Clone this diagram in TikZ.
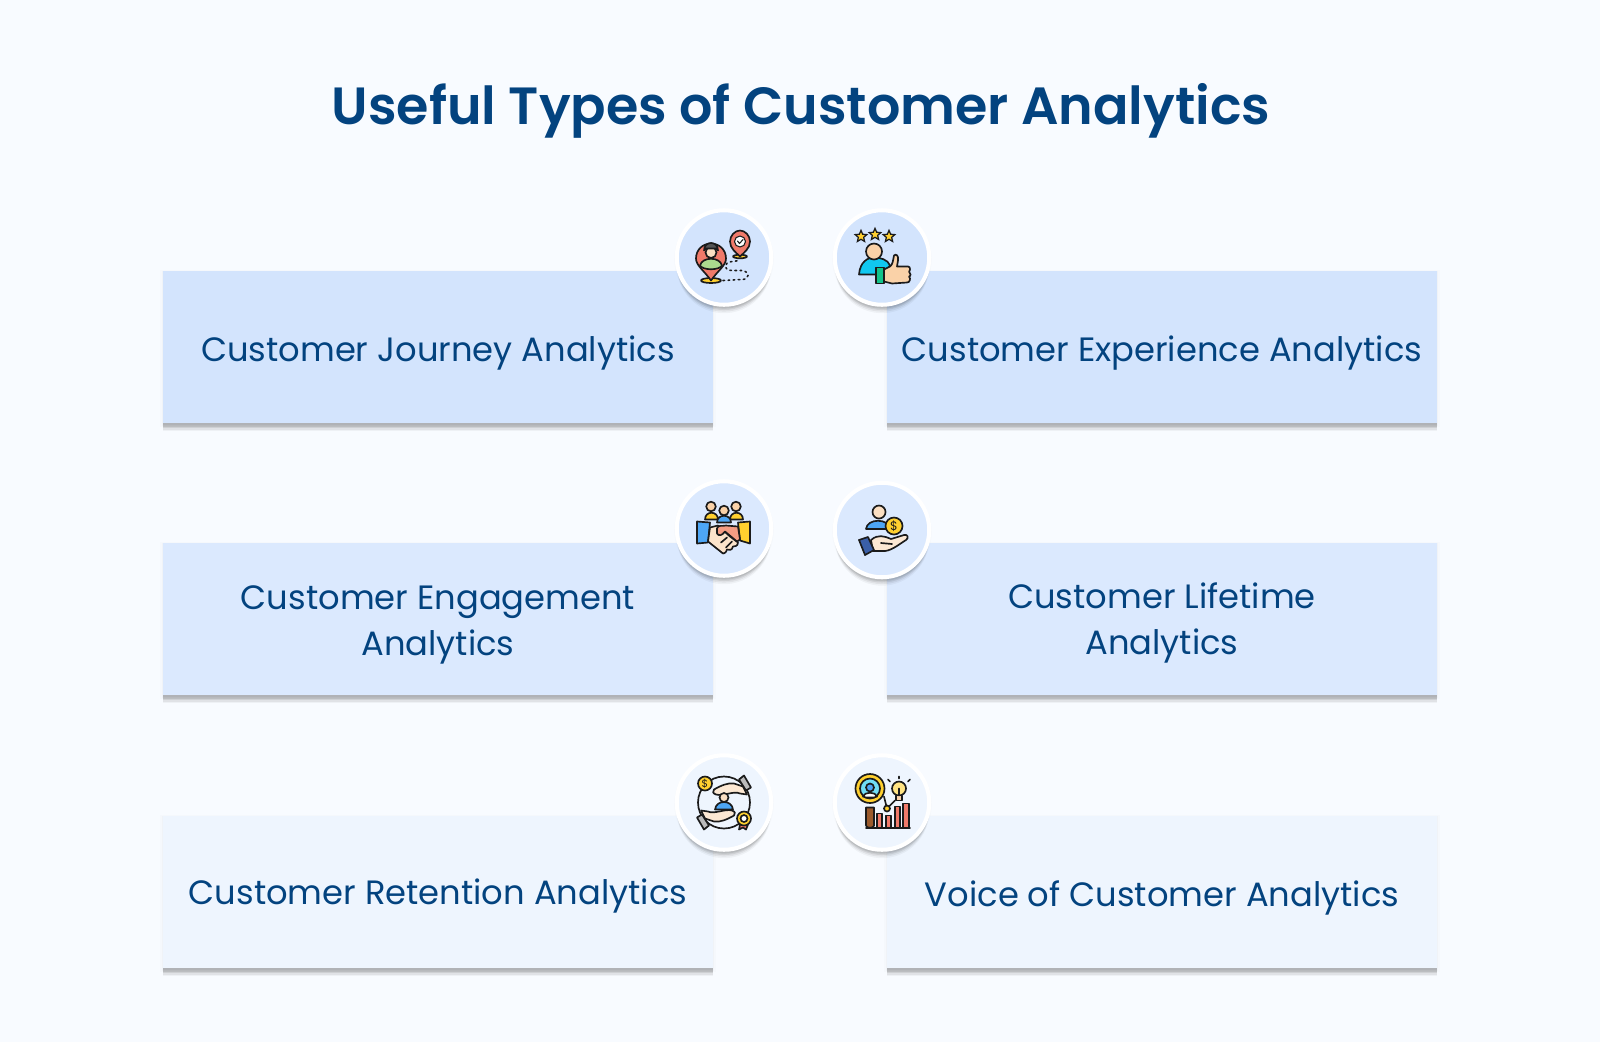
\documentclass[tikz,border=0pt]{standalone}
\usepackage{fontspec}
\setmainfont{Poppins}
\newfontfamily\titlefont{Poppins}[BoldFont={Poppins SemiBold}]
\usetikzlibrary{shadows,shapes.geometric}
\definecolor{pagebg}{HTML}{F8FBFF}
\definecolor{inkblue}{HTML}{03437F}
\definecolor{rowone}{HTML}{D3E4FD}
\definecolor{rowtwo}{HTML}{DBE9FE}
\definecolor{rowthree}{HTML}{EEF5FE}
\definecolor{iconink}{HTML}{1B1B1B}
\definecolor{salmon}{HTML}{F07A6A}
\definecolor{gold}{HTML}{FFD02F}
\definecolor{peach}{HTML}{FAD2A8}
\definecolor{skyblue}{HTML}{4DA6F5}
\definecolor{cyanblue}{HTML}{10C8F0}
\definecolor{leaf}{HTML}{12C48B}
\definecolor{navyhand}{HTML}{3A5FA8}
\definecolor{brownish}{HTML}{9A5A2C}
\newcommand{\downtext}[2]{\raisebox{-#1pt}[\height][\depth]{#2}}
\tikzset{
  softshadow/.style={
    general shadow={fill=black,draw=black,line width=3pt,opacity=.012,shadow yshift=-1pt},
    general shadow={fill=black,draw=black,line width=1.5pt,opacity=.018,shadow yshift=-1pt},
    general shadow={fill=black,opacity=.04,shadow yshift=-4.8pt},
    general shadow={fill=black,opacity=.06,shadow yshift=-3.9pt},
    general shadow={fill=black,opacity=.08,shadow yshift=-3pt},
    general shadow={fill=black,opacity=.08,shadow yshift=-2.2pt}},
  cardbox/.style={rectangle,softshadow,minimum width=550*.02cm,minimum height=152*.02cm,
    inner sep=0pt,align=center,text=inkblue,font=\fontsize{19.2}{26.2}\selectfont},
  iconcircle/.style={circle,softshadow,draw=white,line width=2.3pt,minimum size=94.5*.02cm,inner sep=0pt},
  iconline/.style={draw=iconink,line width=.95pt,line join=round,line cap=round},
  starmark/.style={star,star points=5,star point ratio=2.2,fill=gold,draw=iconink,line width=.7pt,minimum size=7pt,inner sep=0pt},
  dollarmark/.style={text=iconink,inner sep=0pt,font=\fontsize{7}{7}\selectfont}
}
\begin{document}
\begin{tikzpicture}[x=.02cm,y=-.02cm]
  \useasboundingbox (0,0) rectangle (1600,1042);
  \fill[pagebg] (0,0) rectangle (1600,1042);

  %% title
  \node (title) at (801,111) [text=inkblue,font=\titlefont\bfseries\fontsize{29.8}{36}\selectfont] {Useful Types of Customer Analytics};

  %% cards
  \node[cardbox,fill=rowone] (journey) at (438,347) {\downtext{3.5}{Customer Journey Analytics}};
  \node[cardbox,fill=rowone] (experience) at (1162,347) {\downtext{3.5}{Customer Experience Analytics}};
  \node[cardbox,fill=rowtwo] (engagement) at (438,619) {\downtext{3.2}{Customer Engagement}\\\downtext{3.2}{Analytics}};
  \node[cardbox,fill=rowtwo] (lifetime) at (1162,619) {\downtext{2.1}{Customer Lifetime}\\\downtext{2.1}{Analytics}};
  \node[cardbox,fill=rowthree] (retention) at (438,892) {\downtext{2.4}{Customer Retention Analytics}};
  \node[cardbox,fill=rowthree] (voice) at (1162,892) {\downtext{3.5}{Voice of Customer Analytics}};

  %% circles
  \node[iconcircle,fill=rowone] (journeyicon) at (724,257.5) {};
  \node[iconcircle,fill=rowone] (experienceicon) at (882,257.5) {};
  \node[iconcircle,fill=rowtwo] (engagementicon) at (724,528.5) {};
  \node[iconcircle,fill=rowtwo] (lifetimeicon) at (882,530) {};
  \node[iconcircle,fill=rowthree] (retentionicon) at (724,802.5) {};
  \node[iconcircle,fill=rowthree] (voiceicon) at (882,802.5) {};

  %% journey icon
  \begin{scope}[shift={(journeyicon.center)}]
    \draw[iconline,fill=gold] (-13,23) ellipse (10 and 2.5);
    \draw[iconline,fill=gold] (16,-1) ellipse (7 and 1.8);
    \draw[iconline,fill=salmon] (-13,23) .. controls (-20,13) and (-28,8) .. (-28,1)
      .. controls (-28,-8) and (-21,-14) .. (-13,-14) .. controls (-5,-14) and (2,-8) .. (2,1)
      .. controls (2,8) and (-6,13) .. (-13,23) -- cycle;
    \draw[iconline,fill=salmon] (16,-1) .. controls (12,-5) and (6,-9) .. (6,-16)
      .. controls (6,-22) and (11,-27) .. (16,-27) .. controls (21,-27) and (26,-22) .. (26,-16)
      .. controls (26,-9) and (20,-5) .. (16,-1) -- cycle;
    \draw[iconline,fill=white,line width=.6pt] (16,-16) circle (5.5);
    \draw[iconline,line width=.6pt] (13.5,-16.5) -- (15.5,-14) -- (19,-18);
    \draw[iconline,fill=leaf!50!gold!70!white] (-24,8) .. controls (-22,-1) and (-4,-1) .. (-2,8) .. controls (-5,13) and (-21,13) .. (-24,8) -- cycle;
    \draw[iconline,fill=peach!70!white] (-13,-5) circle (5.5);
    \draw[iconline,fill=iconink!75] (-20,-7) .. controls (-20,-17) and (-6,-17) .. (-6,-7) -- (-8,-9) -- (-18,-9) -- cycle;
    \draw[iconink,line width=.9pt,dotted,line cap=round] (-1,23) -- (18,22) .. controls (26,22) and (26,14) .. (18,13)
      -- (8,13) .. controls (-1,13) and (-1,5) .. (8,4) -- (16,3);
  \end{scope}

  %% experience icon
  \begin{scope}[shift={(experienceicon.center)}]
    \node[starmark] (starone) at (-21,-21) {};
    \node[starmark] (startwo) at (-7,-23) {};
    \node[starmark] (starthree) at (7,-21) {};
    \draw[iconline,fill=cyanblue] (-23,17) .. controls (-22,4) and (-14,0) .. (-8,0) .. controls (-2,0) and (6,2) .. (8,8) -- (2,17) -- cycle;
    \draw[iconline,fill=peach] (-8,-6) circle (8);
    \draw[iconline,fill=peach] (2,12) -- (8,9) .. controls (11,7) and (11,2) .. (12,-2) .. controls (14,-4) and (17,-2) .. (16,3)
      -- (15,9) -- (26,9) .. controls (29,9) and (28,14) .. (27,14) .. controls (29,15) and (29,19) .. (27,19)
      .. controls (29,21) and (28,25) .. (25,25) -- (10,26) -- (2,24) -- cycle;
    \draw[iconline,fill=leaf] (-6,10) rectangle (2,26);
  \end{scope}

  %% engagement icon
  \begin{scope}[shift={(engagementicon.center)}]
    \draw[iconline,fill=gold] (-19,-9) .. controls (-19,-18) and (-6,-18) .. (-6,-9) -- cycle;
    \draw[iconline,fill=gold] (6,-9) .. controls (6,-18) and (19,-18) .. (19,-9) -- cycle;
    \draw[iconline,fill=peach] (-13,-22) circle (4.8);
    \draw[iconline,fill=peach] (12,-22) circle (4.8);
    \draw[iconline,fill=skyblue] (-7,-6) .. controls (-7,-15) and (7,-15) .. (7,-6) -- cycle;
    \draw[iconline,fill=peach] (0,-18) circle (4.8);
    \draw[iconline,fill=skyblue] (-27,-7) -- (-14,-6) -- (-16,14) -- (-27,15) -- cycle;
    \draw[iconline,fill=gold] (14,-6) -- (26,-7) -- (26,15) -- (16,12) -- cycle;
    \draw[iconline,fill=peach!60!white] (-14,-1) -- (-6,-3) -- (6,8) -- (14,14) .. controls (14,18) and (10,18) .. (9,18)
      .. controls (8,22) and (5,22) .. (3,21) .. controls (2,25) and (-1,25) .. (-1,25) -- (-16,13) -- cycle;
    \draw[iconline,fill=salmon!60!peach] (-7,5) -- (-7,0) .. controls (-6,-4) and (-2,-2) .. (2,-3) -- (14,-2) -- (16,11) -- (13,13)
      -- (1,3) .. controls (-2,7) and (-5,8) .. (-7,5) -- cycle;
    \draw[iconline] (-3,14) -- (3,9) (2,19) -- (8,13);
  \end{scope}

  %% lifetime icon
  \begin{scope}[shift={(lifetimeicon.center)}]
    \draw[iconline,fill=skyblue] (-16,-1) .. controls (-15,-12) and (7,-12) .. (8,-1) -- cycle;
    \draw[iconline,fill=peach!70!white] (-3,-18) circle (6.5);
    \draw[iconline,fill=gold] (12,-4) circle (8.5);
    \node[dollarmark] (lifetimecoin) at (12,-4) {\$};
    \draw[iconline,fill=peach!50!white] (-11,10) .. controls (-4,4) and (2,6) .. (9,9) -- (22,5) .. controls (26,4) and (27,8) .. (24,10)
      .. controls (16,15) and (8,22) .. (0,21) -- (-9,21) -- cycle;
    \draw[iconline,fill=navyhand] (-23,10) -- (-14,7) -- (-8,20) -- (-17,25) -- cycle;
    \draw[iconline] (-1,13) -- (10,14);
  \end{scope}

  %% retention icon
  \begin{scope}[shift={(retentionicon.center)}]
    \draw[iconline] (0,0) circle (26);
    \draw[iconline,fill=peach!50!white] (-10,-13) .. controls (-3,-17) and (4,-20) .. (10,-19) -- (19,-16) -- (23,-8) -- (16,-9)
      .. controls (10,-12) and (-1,-6) .. (-8,-8) .. controls (-11,-9) and (-12,-11) .. (-10,-13) -- cycle;
    \draw[iconline,fill=white!70!iconink] (15,-23) -- (20,-27) -- (27,-15) -- (22,-12) -- cycle;
    \draw[iconline,fill=peach!50!white] (10,13) .. controls (3,17) and (-4,20) .. (-10,19) -- (-19,16) -- (-23,8) -- (-16,9)
      .. controls (-10,12) and (1,6) .. (8,8) .. controls (11,9) and (12,11) .. (10,13) -- cycle;
    \draw[iconline,fill=white!70!iconink] (-15,23) -- (-20,27) -- (-27,15) -- (-22,12) -- cycle;
    \draw[iconline,fill=gold] (-19,-19) circle (7);
    \node[dollarmark,font=\fontsize{6}{6}\selectfont] (retentioncoin) at (-19,-19) {\$};
    \draw[iconline,fill=skyblue] (-9,7) .. controls (-8,-3) and (8,-3) .. (9,7) -- cycle;
    \draw[iconline,fill=peach!70!white] (0,-5) circle (4.5);
    \draw[iconline,fill=salmon] (16,22) -- (15,27) -- (19,25) -- (22,27) -- (24,22) -- cycle;
    \draw[iconline,fill=gold] (20,16) circle (7);
    \draw[iconline,fill=white] (20,16) circle (3.5);
  \end{scope}

  %% voice icon
  \begin{scope}[shift={(voiceicon.center)}]
    \draw[iconline] (2,-6) -- (5,6) -- (13,-2);
    \draw[iconline,fill=brownish] (-16,5) -- (-8,5) -- (-8,23) .. controls (-8,26) and (-16,26) .. (-16,23) -- cycle;
    \draw[iconline,fill=salmon] (-5,11) rectangle (0,25);
    \draw[iconline,fill=salmon] (4,13) rectangle (9,25);
    \draw[iconline,fill=salmon] (13,4) rectangle (18,25);
    \draw[iconline,fill=salmon] (21,1) rectangle (27,25);
    \draw[iconline] (-16,25.5) -- (28,25.5);
    \draw[iconline,fill=gold] (5,6) circle (3);
    \draw[iconline,fill=gold] (-12,-14) circle (14.5);
    \draw[iconline,fill=cyanblue!60!white] (-12,-14) circle (10);
    \draw[iconline,fill=white] (-19,-6) .. controls (-18,-11) and (-6,-11) .. (-5,-6) -- (-8,-5) -- (-16,-5) -- cycle;
    \draw[iconline,fill=skyblue] (-12,-15) circle (4);
    \draw[iconline,fill=gold!60!white] (17,-14) circle (7);
    \draw[iconline,fill=peach] (14,-7) rectangle (20,-2);
    \draw[iconline] (17,-26) -- (17,-24) (6,-23) -- (8,-21) (28,-23) -- (26,-21) (17,-14) -- (17,-7);
  \end{scope}
\end{tikzpicture}
\end{document}
